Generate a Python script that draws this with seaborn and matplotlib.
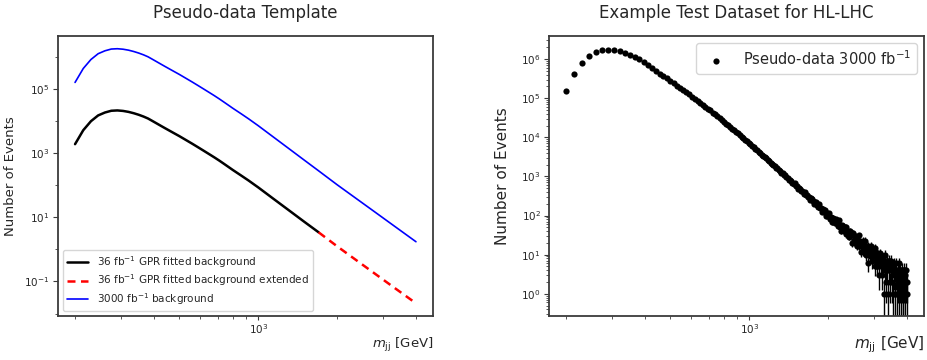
import numpy as np
import pandas as pd
import matplotlib
matplotlib.use("Agg")
import matplotlib.pyplot as plt
import seaborn as sns
from matplotlib.ticker import NullFormatter, FixedLocator, LogLocator

# ---------------- data ----------------
# Left panel: fitted background curves (GeV, events)
MJJ_36 = [200, 215, 230, 245, 260, 275, 290, 305, 320, 335, 350, 365, 380, 395,
          410, 425, 440, 470, 500, 530, 560, 590, 620, 650, 680, 710, 740, 770,
          800, 860, 920, 980, 1000, 1150, 1300, 1500, 1700]
BKG_36 = [1880, 5124, 9756, 14760, 18170, 20620, 21100, 20380, 19020, 17280,
          15460, 13620, 11810, 9876, 8304, 7020, 5976, 4428, 3348, 2532, 1944,
          1500, 1169, 920, 731, 581, 461, 368, 296, 200, 138, 95.5, 85.0, 36.2,
          17.2, 7.2, 3.4]
MJJ_36_EXT = [1700, 2000, 2400, 2800, 3300, 4000]
BKG_36_EXT = [3.4, 1.25, 0.425, 0.171, 0.0648, 0.0210]
MJJ_3000 = [200, 215, 230, 245, 260, 275, 290, 305, 320, 335, 350, 365, 380, 395,
            410, 425, 440, 470, 500, 530, 560, 590, 620, 650, 680, 710, 740, 770,
            800, 860, 920, 980, 1000, 1150, 1300, 1500, 1700, 2000, 2400, 2800,
            3300, 4000]
BKG_3000 = [1.57e5, 4.27e5, 8.13e5, 1.23e6, 1.514e6, 1.718e6, 1.758e6, 1.698e6,
            1.585e6, 1.44e6, 1.288e6, 1.135e6, 9.84e5, 8.23e5, 6.92e5, 5.85e5,
            4.98e5, 3.69e5, 2.79e5, 2.11e5, 1.62e5, 1.25e5, 9.74e4, 7.67e4,
            6.09e4, 4.84e4, 3.84e4, 3.07e4, 2.47e4, 1.67e4, 1.15e4, 7.96e3,
            7.08e3, 3.02e3, 1.43e3, 597, 279, 103, 35.2, 14.2, 5.38, 1.73]

# Right panel: pseudo-data, 15 GeV bins starting at 200 GeV
DATA_BIN_START = 200
DATA_BIN_WIDTH = 15
DATA_COUNTS = [
    157214, 426530, 812870, 1231045, 1513388, 1718912, 1757460, 1698733, 1584502, 1439688,
    1288841, 1134627, 984390, 822711, 692458, 584719, 498233, 426825, 369402, 320689,
    279311, 241782, 211395, 184658, 162240, 141871, 125262, 109753, 97531, 86104,
    76948, 68033, 61127, 54186, 48571, 42938, 38562, 34118, 30874, 27361,
    24812, 22187, 20329, 18214, 16784, 15093, 13891, 12547, 11561, 10372,
    9581, 8663, 7994, 7251,
    6712, 6041, 5603, 5082, 4731, 4268, 3987, 3619, 3391, 3072,
    2889, 2618, 2471, 2243, 2131, 1932, 1846, 1671, 1598, 1437,
    1379, 1251, 1207, 1093, 1061, 948,
    927, 820, 805, 785, 691, 638, 662, 583, 570, 480,
    496, 482, 422, 418, 364, 402, 340, 341, 296, 296,
    255, 282, 258, 234, 195, 227, 223, 183, 183, 161,
    194, 153, 155, 125, 146, 123, 137, 96, 118, 99,
    105, 116, 82, 94, 85, 67, 89, 82, 65, 83,
    64, 65, 53, 75, 52, 57, 41, 57, 47, 55,
    40, 47, 33, 52, 39, 34, 41, 29, 41, 31,
    33, 20, 33, 36, 24, 20, 30, 25, 17, 28,
    21, 31, 17, 22, 12, 21, 18, 23, 13, 17,
    13, 23, 10, 16, 12, 17, 6, 15, 12, 9,
    17, 10, 13, 7, 14, 9, 11, 5, 15, 7,
    9, 5, 11, 7, 10, 3, 8, 11, 5, 7,
    3, 9, 5, 8, 1, 6, 10, 4, 5, 2,
    7, 4, 6, 1, 7, 4, 6, 2, 4, 7,
    2, 4, 1, 5, 3, 6, 1, 4, 3, 6,
    1, 3, 4, 2, 6, 1, 3, 2, 4, 1,
    3, 2, 4, 1, 3, 1, 4, 2, 3, 1,
    2, 4, 1, 2,
]

X_MAJOR_TICKS = [1e3]
LEFT_Y_TICKS = [1e-1, 1e1, 1e3, 1e5]
LEFT_Y_MINOR = [1e-2, 1e0, 1e2, 1e4, 1e6]
RIGHT_Y_TICKS = [1e0, 1e1, 1e2, 1e3, 1e4, 1e5, 1e6]

LEFT_TITLE = "Pseudo-data Template"
RIGHT_TITLE = "Example Test Dataset for HL-LHC"
XLABEL = r"$m_{\rm jj}$ [GeV]"
YLABEL = "Number of Events"
LABEL_36 = r"36 fb$^{-1}$ GPR fitted background"
LABEL_36_EXT = r"36 fb$^{-1}$ GPR fitted background extended"
LABEL_3000 = r"3000 fb$^{-1}$ background"
LABEL_DATA = r"Pseudo-data 3000 fb$^{-1}$"

# ---------------- style ----------------
sns.set_style("ticks")
plt.rcParams["font.family"] = ["DejaVu Sans"]
plt.rcParams["axes.edgecolor"] = "#3a3a3a"
plt.rcParams["axes.linewidth"] = 1.3
plt.rcParams["xtick.color"] = "#3a3a3a"
plt.rcParams["ytick.color"] = "#3a3a3a"
plt.rcParams["xtick.labelcolor"] = "#262626"
plt.rcParams["ytick.labelcolor"] = "#262626"
plt.rcParams["xtick.major.size"] = 3
plt.rcParams["ytick.major.size"] = 3.5
plt.rcParams["xtick.minor.size"] = 2
plt.rcParams["ytick.minor.size"] = 2
plt.rcParams["xtick.major.pad"] = 1.5
plt.rcParams["ytick.major.pad"] = 2.5

fig = plt.figure(figsize=(9.28, 3.6), dpi=100)
ax1 = fig.add_axes([58 / 928, 1 - 316 / 360, 375 / 928, 280 / 360])
ax2 = fig.add_axes([549 / 928, 1 - 316 / 360, 375 / 928, 280 / 360])

# ---------------- left panel ----------------
ax1.set_xscale("log")
ax1.set_yscale("log")
df36 = pd.DataFrame({"mjj": MJJ_36, "n": BKG_36})
df36e = pd.DataFrame({"mjj": MJJ_36_EXT, "n": BKG_36_EXT})
df3000 = pd.DataFrame({"mjj": MJJ_3000, "n": BKG_3000})
sns.lineplot(data=df36, x="mjj", y="n", ax=ax1, color="black", lw=1.8,
             label=LABEL_36, sort=False, estimator=None)
sns.lineplot(data=df36e, x="mjj", y="n", ax=ax1, color="red", lw=1.8,
             linestyle=(0, (3.2, 2.2)), label=LABEL_36_EXT, sort=False, estimator=None)
sns.lineplot(data=df3000, x="mjj", y="n", ax=ax1, color="blue", lw=1.2,
             label=LABEL_3000, sort=False, estimator=None)
ax1.set_title(LEFT_TITLE, fontsize=12, pad=13)
ax1.set_xlabel(XLABEL, fontsize=9.5, loc="right", labelpad=0)
ax1.set_ylabel(YLABEL, fontsize=9.5, labelpad=5)
ax1.tick_params(labelsize=7.5)
ax1.xaxis.set_major_locator(FixedLocator(X_MAJOR_TICKS))
ax1.yaxis.set_major_locator(FixedLocator(LEFT_Y_TICKS))
ax1.yaxis.set_minor_locator(FixedLocator(LEFT_Y_MINOR))
ax1.yaxis.set_minor_formatter(NullFormatter())
ax1.xaxis.set_minor_formatter(NullFormatter())
ax1.legend(loc="lower left", fontsize=7.5, framealpha=0.8, labelspacing=0.25)

# ---------------- right panel ----------------
ax2.set_xscale("log")
ax2.set_yscale("log")
counts = np.asarray(DATA_COUNTS, dtype=float)
mjj_data = DATA_BIN_START + DATA_BIN_WIDTH * np.arange(len(counts))
dfd = pd.DataFrame({"mjj": mjj_data, "n": counts})
ax2.errorbar(dfd["mjj"], dfd["n"], yerr=np.sqrt(dfd["n"]), fmt="none",
             ecolor="black", elinewidth=1.0, zorder=2)
sns.scatterplot(data=dfd, x="mjj", y="n", ax=ax2, color="black", s=20,
                linewidth=0, label=LABEL_DATA, zorder=3)
ax2.set_xlim(172, 4640)
ax2.set_ylim(0.27, 3.9e6)
ax2.set_title(RIGHT_TITLE, fontsize=12, pad=13)
ax2.set_xlabel(XLABEL, fontsize=11, loc="right", labelpad=-1)
ax2.set_ylabel(YLABEL, fontsize=11, labelpad=8)
ax2.tick_params(labelsize=7.5)
ax2.xaxis.set_major_locator(FixedLocator(X_MAJOR_TICKS))
ax2.xaxis.set_minor_formatter(NullFormatter())
ax2.yaxis.set_major_locator(FixedLocator(RIGHT_Y_TICKS))
ax2.yaxis.set_minor_formatter(NullFormatter())
ax2.legend(loc="upper right", fontsize=10.5, framealpha=0.8)

fig.savefig("out.png", dpi=100)
